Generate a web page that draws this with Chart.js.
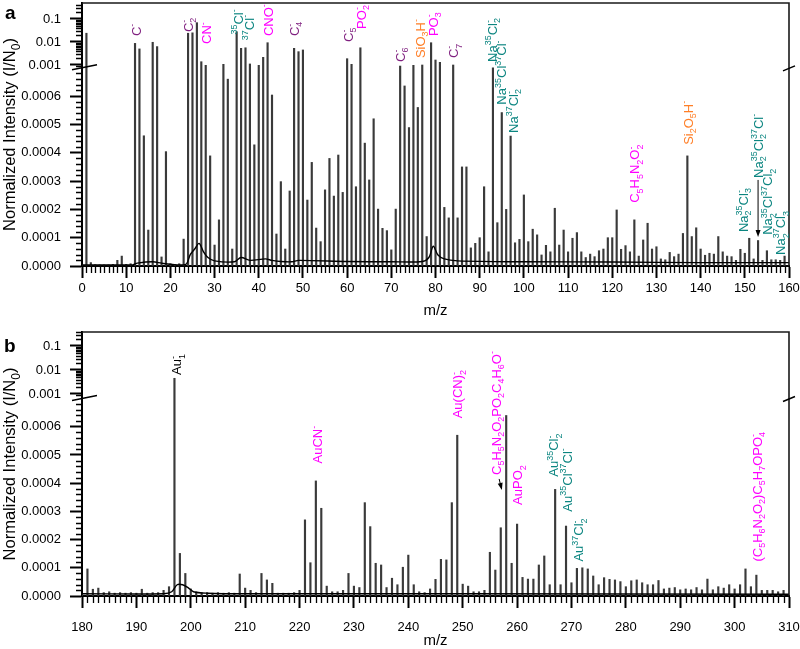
<!DOCTYPE html>
<html>
<head>
<meta charset="utf-8">
<script src="https://cdn.jsdelivr.net/npm/chart.js@4.4.1/dist/chart.umd.min.js"></script>
<style>
body { margin: 0; background: #fff; }
.panel { position: absolute; left: 0; width: 800px; }
</style>
</head>
<body>
<div class="panel" style="top:0;height:325px"><canvas id="chartA" width="800" height="325"></canvas></div>
<div class="panel" style="top:325px;height:324px"><canvas id="chartB" width="800" height="324"></canvas></div>
<script>
// ---- panel a : peaks (m/z, normalized intensity) ----
const mzA = [
  0, 1, 2, 3, 4, 5, 6, 7, 8, 9, 10, 11, 12, 13, 14, 15, 16, 17, 18, 19,
  20, 21, 22, 23, 24, 25, 26, 27, 28, 29, 30, 31, 32, 33, 34, 35, 36, 37, 38, 39,
  40, 41, 42, 43, 44, 45, 46, 47, 48, 49, 50, 51, 52, 53, 54, 55, 56, 57, 58, 59,
  60, 61, 62, 63, 64, 65, 66, 67, 68, 69, 70, 71, 72, 73, 74, 75, 76, 77, 78, 79,
  80, 81, 82, 83, 84, 85, 86, 87, 88, 89, 90, 91, 92, 93, 94, 95, 96, 97, 98, 99,
  100, 101, 102, 103, 104, 105, 106, 107, 108, 109, 110, 111, 112, 113, 114, 115, 116, 117, 118, 119,
  120, 121, 122, 123, 124, 125, 126, 127, 128, 129, 130, 131, 132, 133, 134, 135, 136, 137, 138, 139,
  140, 141, 142, 143, 144, 145, 146, 147, 148, 149, 150, 151, 152, 153, 154, 155, 156, 157, 158, 159
];
const intA = [
  0.000005, 0.024, 0.000012, 0.000005, 0.000004, 0.000004, 0.000004, 0.000006, 0.00002, 0.000035,
  0.000006, 0.000008, 0.0087, 0.0050, 0.00046, 0.000127, 0.0097, 0.0063, 0.000032, 0.000404,
  0.000008, 0.000006, 0.000008, 0.000095, 0.024, 0.025, 0.069, 0.00139, 0.00097, 0.000389,
  0.000074, 0.000163, 0.00107, 0.00066, 0.00006, 0.028, 0.0053, 0.0056, 0.00111, 0.000428,
  0.00097, 0.00216, 0.0093, 0.000604, 0.000113, 0.000298, 0.00006, 0.000265, 0.0053, 0.0038,
  0.0045, 0.000233, 0.000366, 0.000134, 0.000086, 0.000269, 0.00038, 0.000247, 0.000392, 0.00026,
  0.00188, 0.00107, 0.00028, 0.0056, 0.000434, 0.000304, 0.00052, 0.000201, 0.000133, 0.000125,
  0.000057, 0.000201, 0.0009, 0.000636, 0.000489, 0.00097, 0.00056, 0.001, 0.000104, 0.0093,
  0.00165, 0.00131, 0.000207, 0.00017, 0.001, 0.00017, 0.00035, 0.00035, 0.000064, 0.00008,
  0.0001, 0.00028, 0.00005, 0.0007, 0.000153, 0.000542, 0.0002, 0.000459, 0.000082, 0.000094,
  0.000251, 0.000086, 0.00013, 0.00011, 0.000039, 0.000073, 0.00005, 0.000204, 0.000074, 0.000127,
  0.00005, 0.000098, 0.000118, 0.00005, 0.00003, 0.000042, 0.000033, 0.000054, 0.00006, 0.0001,
  0.0001, 0.000198, 0.000059, 0.000072, 0.00005, 0.000163, 0.000035, 0.000092, 0.000151, 0.00006,
  0.000068, 0.000025, 0.000022, 0.000048, 0.000033, 0.000042, 0.000115, 0.000389, 0.000104, 0.000135,
  0.00006, 0.000038, 0.000045, 0.000042, 0.000104, 0.00005, 0.000035, 0.000033, 0.00002, 0.000059,
  0.000045, 0.000098, 0.000025, 0.00009, 0.00002, 0.000054, 0.000022, 0.000022, 0.00002, 0.000035
];
// panel a : background / peak tails
const baseMzA = [0, 11.5, 12.5, 16, 18, 20, 23.5, 24.5, 25.5, 26.5, 27.5, 28.5, 30, 34.5, 36, 38, 41.5, 43, 45,
  47.5, 49, 60, 70, 77, 78.5, 79.5, 80.5, 82, 85, 100, 120, 140, 160];
const baseIntA = [0.000004, 0.000004, 0.00001, 0.000015, 0.00001, 0.000006, 0.000006, 0.00004, 0.00006, 0.00008,
  0.00005, 0.00003, 0.000018, 0.000015, 0.00003, 0.00002, 0.000025, 0.00002, 0.000016, 0.000015, 0.00002,
  0.000016, 0.000015, 0.000016, 0.00003, 0.00007, 0.00004, 0.000025, 0.000018, 0.000015, 0.000014, 0.000012, 0.000012];

// ---- panel b ----
const mzB = [
  180, 181, 182, 183, 184, 185, 186, 187, 188, 189, 190, 191, 192, 193, 194, 195, 196, 197, 198, 199,
  200, 201, 202, 203, 204, 205, 206, 207, 208, 209, 210, 211, 212, 213, 214, 215, 216, 217, 218, 219,
  220, 221, 222, 223, 224, 225, 226, 227, 228, 229, 230, 231, 232, 233, 234, 235, 236, 237, 238, 239,
  240, 241, 242, 243, 244, 245, 246, 247, 248, 249, 250, 251, 252, 253, 254, 255, 256, 257, 258, 259,
  260, 261, 262, 263, 264, 265, 266, 267, 268, 269, 270, 271, 272, 273, 274, 275, 276, 277, 278, 279,
  280, 281, 282, 283, 284, 285, 286, 287, 288, 289, 290, 291, 292, 293, 294, 295, 296, 297, 298, 299,
  300, 301, 302, 303, 304, 305, 306, 307, 308, 309
];
const intB = [
  0.000005, 0.000096, 0.000024, 0.000028, 0.000012, 0.000015, 0.00001, 0.000012, 0.00001, 0.000012,
  0.00001, 0.000024, 0.00001, 0.000012, 0.000012, 0.00002, 0.000033, 0.0045, 0.000151, 0.00008,
  0.000025, 0.000015, 0.000012, 0.000012, 0.00001, 0.000012, 0.00001, 0.000012, 0.00001, 0.000078,
  0.000028, 0.00002, 0.000012, 0.00008, 0.000057, 0.000045, 0.00001, 0.00001, 0.00001, 0.000012,
  0.00002, 0.00027, 0.000118, 0.000408, 0.000311, 0.000035, 0.000015, 0.000015, 0.00002, 0.00008,
  0.000035, 0.00003, 0.000331, 0.000246, 0.000116, 0.00011, 0.00003, 0.000063, 0.00004, 0.000102,
  0.000145, 0.00004, 0.000015, 0.000012, 0.000025, 0.000059, 0.00013, 0.000128, 0.000331, 0.00057,
  0.000042, 0.000035, 0.000015, 0.000015, 0.00002, 0.000155, 0.000092, 0.000242, 0.00064, 0.000116,
  0.000255, 0.000066, 0.00006, 0.00006, 0.00011, 0.000142, 0.00004, 0.000378, 0.00004, 0.000248,
  0.000047, 0.000098, 0.0001, 0.000096, 0.000071, 0.00004, 0.000065, 0.000059, 0.000057, 0.000051,
  0.000033, 0.000054, 0.000057, 0.000047, 0.00004, 0.00004, 0.000055, 0.000025, 0.000028, 0.00003,
  0.000022, 0.000025, 0.000022, 0.00003, 0.000022, 0.00006, 0.000022, 0.000033, 0.000028, 0.00004,
  0.000025, 0.00004, 0.000096, 0.000033, 0.000074, 0.00002, 0.00002, 0.00002, 0.000015, 0.00002
];
const baseMzB = [180, 195, 196.5, 197.5, 198.5, 199.5, 200.5, 203, 210, 250, 310];
const baseIntB = [0.000008, 0.000008, 0.000015, 0.00004, 0.00004, 0.00003, 0.000015, 0.00001, 0.000008, 0.000008, 0.000006];

// ---- peak assignments ----
const labelTextA = ['C^-', 'C_2^-', 'CN^-', '^{35}Cl^-', '^{37}Cl^-', 'CNO^-', 'C_4^-', 'C_5^-', 'PO_2^-', 'C_6^-',
  'SiO_3H^-', 'PO_3^-', 'C_7^-', 'Na^{35}Cl_2^-', 'Na^{35}Cl^{37}Cl^-', 'Na^{37}Cl_2^-', 'C_5H_5N_2O_2^-',
  'Si_2O_5H^-', 'Na_2^{35}Cl_3^-', 'Na_2^{35}Cl_2^{37}Cl^-', 'Na_2^{35}Cl^{37}Cl_2', 'Na_2^{37}Cl_3^-'];
const labelMzA = [12.2, 24.0, 28.2, 35.3, 37.8, 42.1, 48.0, 60.2, 63.1, 72.0, 76.5, 79.4, 84.0, 92.8, 95.0, 97.5,
  125.1, 137.1, 149.6, 153.0, 155.2, 158.0];
const labelIntA = [0.018, 0.027, 0.0082, 0.021, 0.012, 0.018, 0.018, 0.010, 0.037, 0.00136, 0.002, 0.018, 0.002,
  0.00136, 0.00057, 0.00047, 0.000223, 0.000428, 0.00012, 0.000311, 0.00011, 0.000039];
const labelKindA = ['C', 'C', 'N', 'Cl', 'Cl', 'N', 'C', 'C', 'N', 'C', 'Si', 'N', 'C', 'Cl', 'Cl', 'Cl', 'N',
  'Si', 'Cl', 'Cl', 'Cl', 'Cl'];

const labelTextB = ['Au_1^-', 'AuCN^-', 'Au(CN)_2^-', 'C_5H_5N_2O_2PO_2C_4H_6O^-', 'AuPO_2', 'Au^{35}Cl_2^-',
  'Au^{35}Cl^{37}Cl^-', 'Au^{37}Cl_2^-', '(C_5H_6N_2O_2)C_5H_7OPO_4^-'];
const labelMzB = [197.4, 223.3, 249.05, 256.1, 260.05, 266.7, 269.2, 271.3, 304.1];
const labelIntB = [0.0062, 0.00047, 0.00063, 0.000429, 0.000323, 0.000423, 0.000299, 0.000122, 0.000122];
const labelKindB = ['Au', 'N', 'N', 'N', 'N', 'Cl', 'Cl', 'Cl', 'N'];

// arrows: [mz start, int start, mz tip, int tip]
const arrowA = [153.0, 0.000304, 153.0, 0.000102];
const arrowB = [256.7, 0.000415, 257.2, 0.000376];

// y tick labels
const yMajorVals = [0, 0.0001, 0.0002, 0.0003, 0.0004, 0.0005, 0.0006, 0.001, 0.01, 0.1];
const yMajorLabels = ['0.0000', '0.0001', '0.0002', '0.0003', '0.0004', '0.0005', '0.0006', '0.001', '0.01', '0.1'];

const kindColor = { C: '#7f1f7f', N: '#ff00ff', Cl: '#0b8580', Si: '#ff7f27', Au: '#000000' };
const FAM = 'Arial, "Liberation Sans", Helvetica, sans-serif';
Chart.defaults.font.family = FAM;
Chart.defaults.color = '#000';

// linear below the break, log above it
class BrokenScale extends Chart.LinearScale {
  toU(v) {
    const o = this.options;
    if (v <= 0.0007) return v * 1e4;
    return o.logBase + o.decade * Math.log10(v / 0.001);
  }
  getPixelForValue(v) {
    return super.getPixelForValue(this.toU(v));
  }
}
BrokenScale.id = 'broken';
Chart.register(BrokenScale);

// minor tick positions (axis decoration only)
function yMinor(top) {
  const t = [];
  for (let i = 1; i < 35; i++) {
    if (i % 5) t.push(i * 0.00002);
  }
  t.push(0.0009);
  [0.001, 0.01, 0.1].forEach(d => {
    for (let k = 2; k < 10; k++) {
      if (k * d < top) t.push(k * d);
    }
  });
  return t;
}

function xMinor(min, max) {
  const t = [];
  for (let m = min + 1; m < max; m++) {
    if (m % 10) t.push(m);
  }
  return t;
}

function xMajor(min, max) {
  const t = [];
  for (let m = min; m <= max; m += 10) t.push({ value: m, label: String(m) });
  return t;
}

function parseRich(s) {
  const out = [];
  let buf = '', i = 0;
  while (i < s.length) {
    const c = s[i];
    if (c === '_' || c === '^') {
      if (buf) { out.push({ t: buf, k: 'n' }); buf = ''; }
      let txt;
      if (s[i + 1] === '{') {
        const j = s.indexOf('}', i);
        txt = s.slice(i + 2, j);
        i = j + 1;
      } else {
        txt = s[i + 1];
        i += 2;
      }
      out.push({ t: txt, k: c === '_' ? 'sub' : 'sup' });
    } else {
      buf += c;
      i++;
    }
  }
  if (buf) out.push({ t: buf, k: 'n' });
  return out;
}

// draws text with sub/superscripts, baseline at y0, returns width
function drawRich(ctx, s, size, y0, dry) {
  let x = 0, prevSub = null;
  const small = Math.round(size * 0.7);
  parseRich(s).forEach(tok => {
    if (tok.k === 'n') {
      ctx.font = size + 'px ' + FAM;
      if (!dry) ctx.fillText(tok.t, x, y0);
      x += ctx.measureText(tok.t).width;
      prevSub = null;
    } else {
      ctx.font = small + 'px ' + FAM;
      const w = ctx.measureText(tok.t).width;
      if (tok.k === 'sub') {
        if (!dry) ctx.fillText(tok.t, x, y0 + size * 0.28);
        prevSub = { x: x, w: w };
        x += w;
      } else {
        let sx = x;
        if (prevSub) { sx = prevSub.x; x = prevSub.x + Math.max(prevSub.w, w); }
        else x += w;
        if (!dry) ctx.fillText(tok.t, sx, y0 - size * 0.42);
        prevSub = null;
      }
    }
  });
  return x;
}

const decorPlugin = {
  id: 'decor',
  afterDraw(chart, args, o) {
    const { ctx, chartArea: a } = chart;
    const xs = chart.scales.x, ys = chart.scales.y;
    ctx.save();
    ctx.strokeStyle = '#1a1a1a';
    ctx.lineWidth = 1.6;
    ctx.beginPath();
    ctx.moveTo(a.left, a.top);
    ctx.lineTo(a.right, a.top);
    ctx.lineTo(a.right, a.bottom);
    ctx.stroke();

    // minor ticks
    ctx.strokeStyle = '#000';
    ctx.lineWidth = 1.3;
    ctx.beginPath();
    o.xMinor.forEach(v => {
      const px = Math.round(xs.getPixelForValue(v)) + 0.5;
      ctx.moveTo(px, a.bottom);
      ctx.lineTo(px, a.bottom + 7);
    });
    o.yMinor.forEach(v => {
      const py = Math.round(ys.getPixelForValue(v)) + 0.5;
      ctx.moveTo(a.left - 6, py);
      ctx.lineTo(a.left, py);
    });
    ctx.stroke();

    // axis break marks
    const yb = ys.getPixelForValue(0.0007);
    ctx.lineWidth = 1.5;
    ctx.beginPath();
    ctx.moveTo(a.left - 10, yb + 2);
    ctx.lineTo(a.left + 15, yb - 3);
    ctx.moveTo(a.right - 6, yb + 3);
    ctx.lineTo(a.right + 6, yb - 2);
    ctx.stroke();

    // rotated peak labels
    ctx.textBaseline = 'alphabetic';
    o.text.forEach((t, i) => {
      const px = xs.getPixelForValue(o.mz[i]);
      const py = ys.getPixelForValue(o.val[i]);
      ctx.save();
      ctx.translate(px, py);
      ctx.rotate(-Math.PI / 2);
      ctx.fillStyle = kindColor[o.kind[i]];
      drawRich(ctx, t, 13, 4.7);
      ctx.restore();
    });

    // arrow
    const ar = o.arrow;
    const x1 = xs.getPixelForValue(ar[0]), y1 = ys.getPixelForValue(ar[1]);
    const x2 = xs.getPixelForValue(ar[2]), y2 = ys.getPixelForValue(ar[3]);
    const ang = Math.atan2(y2 - y1, x2 - x1);
    ctx.strokeStyle = '#000';
    ctx.fillStyle = '#000';
    ctx.lineWidth = 1;
    ctx.beginPath();
    ctx.moveTo(x1, y1);
    ctx.lineTo(x2 - 5 * Math.cos(ang), y2 - 5 * Math.sin(ang));
    ctx.stroke();
    ctx.beginPath();
    ctx.moveTo(x2, y2);
    ctx.lineTo(x2 - 7 * Math.cos(ang) + 2.5 * Math.sin(ang), y2 - 7 * Math.sin(ang) - 2.5 * Math.cos(ang));
    ctx.lineTo(x2 - 7 * Math.cos(ang) - 2.5 * Math.sin(ang), y2 - 7 * Math.sin(ang) + 2.5 * Math.cos(ang));
    ctx.closePath();
    ctx.fill();

    // panel letter
    ctx.fillStyle = '#000';
    ctx.font = 'bold 19px ' + FAM;
    ctx.fillText(o.letter, o.letterX, o.letterY);

    // y title
    ctx.save();
    const title = 'Normalized Intensity (I/N_0)';
    const w = drawRich(ctx, title, 16.5, 0, true);
    ctx.translate(15, (a.top + a.bottom) / 2 + w / 2);
    ctx.rotate(-Math.PI / 2);
    drawRich(ctx, title, 16.5, 0);
    ctx.restore();

    ctx.restore();
  }
};

function makePanel(id, p) {
  const peaks = p.mz.map((m, i) => ({ x: m, y: p.int[i] }));
  const base = p.baseMz.map((m, i) => ({ x: m, y: p.baseInt[i] }));
  const majorGrid = { drawOnChartArea: false, tickLength: 12, tickColor: '#000', tickWidth: 2 };
  return new Chart(document.getElementById(id), {
    type: 'bar',
    data: {
      datasets: [
        {
          type: 'line', data: base, borderColor: '#000', borderWidth: 1.4,
          pointRadius: 0, tension: 0.3
        },
        {
          type: 'bar', data: peaks, backgroundColor: '#3a3a3a', borderWidth: 0,
          barThickness: 1.5, grouped: false
        }
      ]
    },
    options: {
      responsive: false,
      animation: false,
      events: [],
      layout: { padding: { left: 0, right: 11, top: p.padTop, bottom: 0 } },
      plugins: {
        legend: { display: false },
        tooltip: { enabled: false },
        decor: {
          text: p.labels.text, mz: p.labels.mz, val: p.labels.val, kind: p.labels.kind,
          arrow: p.arrow, letter: p.letter, letterX: p.letterX, letterY: p.letterY,
          xMinor: xMinor(p.xMin, p.xMax), yMinor: yMinor(p.topVal)
        }
      },
      scales: {
        x: {
          type: 'linear', position: 'bottom', min: p.xMin, max: p.xMax, offset: false,
          afterBuildTicks: s => { s.ticks = xMajor(p.xMin, p.xMax); },
          afterFit: s => { s.height = p.xHeight; s.paddingLeft = 0; s.paddingRight = 0; },
          ticks: {
            autoSkip: false, maxRotation: 0, minRotation: 0, padding: p.xPad,
            font: { size: 13 }, color: '#000',
            callback: (v, i, t) => t[i].label
          },
          grid: Object.assign({ offset: false }, majorGrid),
          border: { display: true, color: '#000', width: 2 },
          title: { display: true, text: 'm/z', font: { size: 15 }, color: '#000', padding: { top: 0, bottom: p.titlePad } }
        },
        y: {
          type: 'broken', min: 0, max: p.uMax, bounds: 'data',
          logBase: p.logBase, decade: p.decade,
          afterBuildTicks: s => { s.ticks = yMajorVals.map((v, i) => ({ value: v, label: yMajorLabels[i] })); },
          afterFit: s => { s.width = 82; s.paddingTop = 0; s.paddingBottom = 0; },
          ticks: {
            autoSkip: false, padding: 9, font: { size: 13 }, color: '#000',
            callback: (v, i, t) => t[i].label
          },
          grid: majorGrid,
          border: { display: true, color: '#000', width: 2 }
        }
      }
    },
    plugins: [decorPlugin]
  });
}

makePanel('chartA', {
  mz: mzA, int: intA, baseMz: baseMzA, baseInt: baseIntA,
  labels: { text: labelTextA, mz: labelMzA, val: labelIntA, kind: labelKindA },
  arrow: arrowA, letter: 'a', letterX: 5, letterY: 19,
  xMin: 0, xMax: 160, xHeight: 59, xPad: 3, titlePad: 5, padTop: 3,
  uMax: 9.29, logBase: 7.10, decade: 0.813, topVal: 0.5
});

makePanel('chartB', {
  mz: mzB, int: intB, baseMz: baseMzB, baseInt: baseIntB,
  labels: { text: labelTextB, mz: labelMzB, val: labelIntB, kind: labelKindB },
  arrow: arrowB, letter: 'b', letterX: 4, letterY: 27,
  xMin: 180, xMax: 310, xHeight: 53, xPad: 12, titlePad: -1, padTop: 7,
  uMax: 9.36, logBase: 7.163, decade: 0.851, topVal: 0.5
});
</script>
</body>
</html>
